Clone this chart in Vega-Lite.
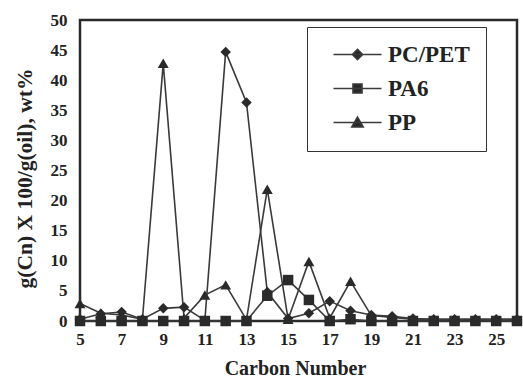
{
  "$schema": "https://vega.github.io/schema/vega-lite/v6.json",
  "width": 437,
  "height": 301,
  "autosize": "none",
  "padding": {"left": 80, "top": 20, "right": 6, "bottom": 55},
  "background": "white",
  "config": {
    "view": {"stroke": "#2a2a2a", "strokeWidth": 2.5},
    "font": "Liberation Serif"
  },
  "data": {
    "values": [
      {"c": 5, "s": "PC/PET", "v": 0.3}, {"c": 6, "s": "PC/PET", "v": 1.2}, {"c": 7, "s": "PC/PET", "v": 1.5}, {"c": 8, "s": "PC/PET", "v": 0.3},
      {"c": 9, "s": "PC/PET", "v": 2.1}, {"c": 10, "s": "PC/PET", "v": 2.3}, {"c": 11, "s": "PC/PET", "v": 0.1}, {"c": 12, "s": "PC/PET", "v": 44.7},
      {"c": 13, "s": "PC/PET", "v": 36.3}, {"c": 14, "s": "PC/PET", "v": 4.8}, {"c": 15, "s": "PC/PET", "v": 0.4}, {"c": 16, "s": "PC/PET", "v": 1.3},
      {"c": 17, "s": "PC/PET", "v": 3.3}, {"c": 18, "s": "PC/PET", "v": 1.7}, {"c": 19, "s": "PC/PET", "v": 1.0}, {"c": 20, "s": "PC/PET", "v": 0.8},
      {"c": 21, "s": "PC/PET", "v": 0.4}, {"c": 22, "s": "PC/PET", "v": 0.3}, {"c": 23, "s": "PC/PET", "v": 0.3}, {"c": 24, "s": "PC/PET", "v": 0.3},
      {"c": 25, "s": "PC/PET", "v": 0.3}, {"c": 26, "s": "PC/PET", "v": 0.3},
      {"c": 5, "s": "PA6", "v": 0}, {"c": 6, "s": "PA6", "v": 0}, {"c": 7, "s": "PA6", "v": 0}, {"c": 8, "s": "PA6", "v": 0},
      {"c": 9, "s": "PA6", "v": 0}, {"c": 10, "s": "PA6", "v": 0}, {"c": 11, "s": "PA6", "v": 0}, {"c": 12, "s": "PA6", "v": 0},
      {"c": 13, "s": "PA6", "v": 0}, {"c": 14, "s": "PA6", "v": 4.2}, {"c": 15, "s": "PA6", "v": 6.8}, {"c": 16, "s": "PA6", "v": 3.5},
      {"c": 17, "s": "PA6", "v": 0}, {"c": 18, "s": "PA6", "v": 0.3}, {"c": 19, "s": "PA6", "v": 0}, {"c": 20, "s": "PA6", "v": 0},
      {"c": 21, "s": "PA6", "v": 0}, {"c": 22, "s": "PA6", "v": 0}, {"c": 23, "s": "PA6", "v": 0}, {"c": 24, "s": "PA6", "v": 0},
      {"c": 25, "s": "PA6", "v": 0}, {"c": 26, "s": "PA6", "v": 0},
      {"c": 5, "s": "PP", "v": 2.9}, {"c": 6, "s": "PP", "v": 1.3}, {"c": 7, "s": "PP", "v": 1.0}, {"c": 8, "s": "PP", "v": 0.3},
      {"c": 9, "s": "PP", "v": 42.8}, {"c": 10, "s": "PP", "v": 0.5}, {"c": 11, "s": "PP", "v": 4.3}, {"c": 12, "s": "PP", "v": 6.0},
      {"c": 13, "s": "PP", "v": 0.2}, {"c": 14, "s": "PP", "v": 21.9}, {"c": 15, "s": "PP", "v": 0.3}, {"c": 16, "s": "PP", "v": 9.9},
      {"c": 17, "s": "PP", "v": 0.5}, {"c": 18, "s": "PP", "v": 6.6}, {"c": 19, "s": "PP", "v": 0.9}, {"c": 20, "s": "PP", "v": 0.6},
      {"c": 21, "s": "PP", "v": 0.3}, {"c": 22, "s": "PP", "v": 0.3}, {"c": 23, "s": "PP", "v": 0.3}, {"c": 24, "s": "PP", "v": 0.3},
      {"c": 25, "s": "PP", "v": 0.3}, {"c": 26, "s": "PP", "v": 0.3}
    ]
  },
  "encoding": {
    "x": {
      "field": "c", "type": "quantitative",
      "scale": {"domain": [5, 26], "nice": false, "zero": false},
      "axis": {
        "values": [5, 7, 9, 11, 13, 15, 17, 19, 21, 23, 25],
        "title": "Carbon Number",
        "domain": false, "ticks": false, "grid": false, "labelFlush": false,
        "labelFont": "Liberation Serif", "labelFontWeight": "bold", "labelFontSize": 17, "labelColor": "#222", "labelPadding": 10,
        "titleFont": "Liberation Serif", "titleFontWeight": "bold", "titleFontSize": 20, "titleColor": "#222",
        "titleX": 215, "titleAlign": "center", "titleY": 53, "titleBaseline": "alphabetic"
      }
    },
    "y": {
      "field": "v", "type": "quantitative",
      "scale": {"domain": [0, 50], "nice": false},
      "axis": {
        "values": [0, 5, 10, 15, 20, 25, 30, 35, 40, 45, 50],
        "title": "g(Cn) X 100/g(oil), wt%",
        "domain": false, "ticks": false, "grid": false, "labelFlush": false,
        "labelFont": "Liberation Serif", "labelFontWeight": "bold", "labelFontSize": 17, "labelColor": "#222", "labelPadding": 13,
        "titleFont": "Liberation Serif", "titleFontWeight": "bold", "titleFontSize": 21.5, "titleColor": "#222",
        "titleX": -55, "titleY": 158, "titleBaseline": "middle"
      }
    }
  },
  "layer": [
    {
      "mark": {"type": "line", "strokeWidth": 1.6, "clip": false},
      "encoding": {
        "stroke": {
          "field": "s", "type": "nominal",
          "scale": {"domain": ["PC/PET", "PA6", "PP"], "range": ["#3a3a3a", "#3a3a3a", "#3a3a3a"]},
          "legend": {
            "title": null,
            "orient": "none", "legendX": 227, "legendY": 7,
            "strokeColor": "#333", "padding": 16,
            "labelFont": "Liberation Serif", "labelFontWeight": "bold", "labelFontSize": 23, "labelColor": "#222",
            "labelOffset": 19, "symbolOffset": 23, "rowPadding": 10, "symbolSize": 144,
            "encode": {
              "symbols": {
                "update": {
                  "shape": {"signal": "datum.value === 'PA6' ? 'M-4,0L4,0M-0.75,-0.75L0.75,-0.75L0.75,0.75L-0.75,0.75Z' : datum.value === 'PP' ? 'M-4,0L4,0M0,-0.9L0.95,0.75L-0.95,0.75Z' : 'M-4,0L4,0M0,-0.85L0.85,0L0,0.85L-0.85,0Z'"},
                  "fill": {"value": "#2a2a2a"},
                  "strokeWidth": {"value": 1.6}
                }
              }
            }
          }
        }
      }
    },
    {
      "transform": [{"filter": "datum.s === 'PC/PET'"}],
      "mark": {"type": "point", "shape": "diamond", "filled": true, "color": "#2a2a2a", "opacity": 1, "size": 110, "clip": false}
    },
    {
      "transform": [{"filter": "datum.s === 'PA6'"}],
      "mark": {"type": "point", "shape": "square", "filled": true, "color": "#2a2a2a", "opacity": 1, "size": 110, "clip": false}
    },
    {
      "transform": [{"filter": "datum.s === 'PP'"}],
      "mark": {"type": "point", "shape": "triangle-up", "filled": true, "color": "#2a2a2a", "opacity": 1, "size": 120, "clip": false}
    }
  ]
}
